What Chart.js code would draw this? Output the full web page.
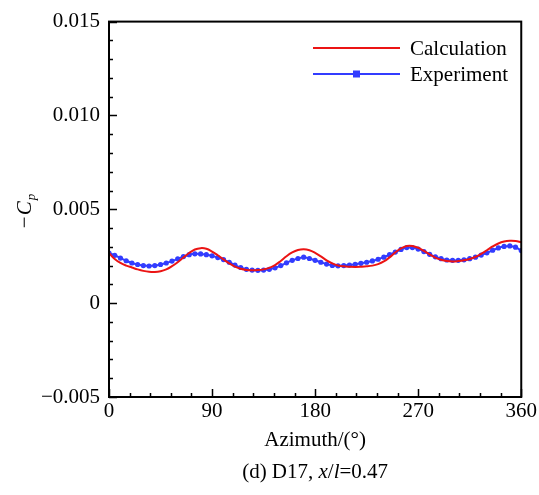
<!DOCTYPE html>
<html>
<head>
<meta charset="utf-8">
<script src="https://cdn.jsdelivr.net/npm/chart.js@4.4.0/dist/chart.umd.min.js"></script>
<style>
  html, body { margin: 0; padding: 0; background: #fff; }
  #wrap { width: 539px; height: 495px; }
</style>
</head>
<body>
<div id="wrap"><canvas id="cp_chart" width="539" height="495"></canvas></div>
<script>
var azimuth = [0, 5, 10, 15, 20, 25, 30, 35, 40, 45, 50, 55, 60, 65, 70, 75, 80, 85, 90,
  95, 100, 105, 110, 115, 120, 125, 130, 135, 140, 145, 150, 155, 160, 165, 170, 175, 180,
  185, 190, 195, 200, 205, 210, 215, 220, 225, 230, 235, 240, 245, 250, 255, 260, 265, 270,
  275, 280, 285, 290, 295, 300, 305, 310, 315, 320, 325, 330, 335, 340, 345, 350, 355, 360];

var calculation = [0.00267, 0.00235, 0.00214, 0.00200, 0.00190, 0.00180, 0.00172, 0.00167, 0.00166,
  0.00170, 0.00180, 0.00197, 0.00218, 0.00243, 0.00267, 0.00286, 0.00293, 0.00290, 0.00275,
  0.00255, 0.00233, 0.00212, 0.00195, 0.00183, 0.00177, 0.00175, 0.00176, 0.00180, 0.00188,
  0.00203, 0.00225, 0.00250, 0.00270, 0.00283, 0.00287, 0.00282, 0.00268,
  0.00249, 0.00228, 0.00212, 0.00201, 0.00196, 0.00194, 0.00193, 0.00194, 0.00196, 0.00200,
  0.00208, 0.00222, 0.00244, 0.00270, 0.00292, 0.00305, 0.00305, 0.00295,
  0.00278, 0.00260, 0.00243, 0.00231, 0.00224, 0.00222, 0.00224, 0.00228, 0.00235, 0.00246,
  0.00262, 0.00282, 0.00302, 0.00318, 0.00328, 0.00332, 0.00331, 0.00325];

var experiment = [0.00267, 0.00255, 0.00240, 0.00226, 0.00214, 0.00206, 0.00200, 0.00198, 0.00200,
  0.00206, 0.00214, 0.00224, 0.00236, 0.00248, 0.00258, 0.00263, 0.00262, 0.00258, 0.00252,
  0.00243, 0.00232, 0.00218, 0.00203, 0.00190, 0.00180, 0.00176, 0.00175, 0.00176, 0.00180,
  0.00188, 0.00200, 0.00215, 0.00228, 0.00238, 0.00245, 0.00238, 0.00228,
  0.00218, 0.00208, 0.00201, 0.00199, 0.00200, 0.00203, 0.00207, 0.00212, 0.00218, 0.00225,
  0.00234, 0.00245, 0.00258, 0.00272, 0.00286, 0.00296, 0.00296, 0.00288,
  0.00275, 0.00260, 0.00247, 0.00237, 0.00230, 0.00228, 0.00228, 0.00231, 0.00237, 0.00245,
  0.00256, 0.00268, 0.00282, 0.00294, 0.00302, 0.00305, 0.00298, 0.00280];

var xMajor = [0, 90, 180, 270, 360];
var xMinorStep = 18;
var yMajor = [-0.005, 0, 0.005, 0.010, 0.015];
var yTickLabels = ["\u22120.005", "0", "0.005", "0.010", "0.015"];
var yMinorStep = 0.001;
var xTitle = "Azimuth/(\u00b0)";

var FONT = "'Liberation Serif', 'Times New Roman', serif";
var RED = "rgb(235, 20, 20)";
var BLUE = "rgb(50, 60, 255)";

function pts(ys) {
  return azimuth.map(function (a, i) { return { x: a, y: ys[i] }; });
}

// frame, inward ticks, axis titles, legend, caption
var decor = {
  id: "decor",
  afterDraw: function (chart) {
    var c = chart.ctx, a = chart.chartArea;
    var xs = chart.scales.x, ys = chart.scales.y;
    c.save();
    c.strokeStyle = "#000";
    c.lineWidth = 2;
    c.strokeRect(a.left, a.top, a.right - a.left, a.bottom - a.top);

    c.lineWidth = 1.5;
    c.beginPath();
    for (var v = 0; v <= 360; v += xMinorStep) {
      var px = Math.round(xs.getPixelForValue(v)) + 0.5;
      var len = (v % 90 === 0) ? 8 : 4;
      c.moveTo(px, a.bottom); c.lineTo(px, a.bottom - len);
    }
    for (var k = -5; k <= 15; k++) {
      var py = Math.round(ys.getPixelForValue(k * yMinorStep)) + 0.5;
      var l2 = (k % 5 === 0) ? 8 : 4;
      c.moveTo(a.left, py); c.lineTo(a.left + l2, py);
    }
    c.stroke();

    c.fillStyle = "#000";
    c.textBaseline = "middle";

    // x title
    c.font = "21px " + FONT;
    c.textAlign = "center";
    c.fillText(xTitle, (a.left + a.right) / 2, 440);

    // y title: −C_p rotated
    c.translate(25, (a.top + a.bottom) / 2);
    c.rotate(-Math.PI / 2);
    c.font = "italic 21px " + FONT;
    c.textAlign = "left";
    var t1 = "\u2212C";
    var w1 = c.measureText(t1).width;
    c.fillText(t1, -w1 / 2 - 6, 0);
    c.font = "italic 13px " + FONT;
    c.fillText("p", w1 / 2 - 5, 7);
    c.setTransform(1, 0, 0, 1, 0, 0);

    // legend
    var lx0 = 313, lx1 = 400, tx = 410;
    var rows = [48, 74];
    c.font = "21px " + FONT;
    c.textAlign = "left";
    chart.data.datasets.forEach(function (ds, i) {
      var y = rows[i];
      c.strokeStyle = ds.borderColor;
      c.lineWidth = 2;
      c.beginPath(); c.moveTo(lx0, y); c.lineTo(lx1, y); c.stroke();
      if (ds.pointRadius > 0) {
        c.fillStyle = ds.pointBackgroundColor;
        c.fillRect((lx0 + lx1) / 2 - 3.5, y - 3.5, 7, 7);
      }
      c.fillStyle = "#000";
      c.fillText(ds.label, tx, y + 1);
    });

    // caption
    var parts = [["(d) D17, ", ""], ["x", "italic "], ["/", ""], ["l", "italic "], ["=0.47", ""]];
    var total = 0;
    parts.forEach(function (p) { c.font = p[1] + "21px " + FONT; total += c.measureText(p[0]).width; });
    var cx = (a.left + a.right) / 2 - total / 2;
    parts.forEach(function (p) {
      c.font = p[1] + "21px " + FONT;
      c.fillText(p[0], cx, 472);
      cx += c.measureText(p[0]).width;
    });
    c.restore();
  }
};

var ctx = document.getElementById("cp_chart").getContext("2d");
var cp_chart = new Chart(ctx, {
  type: "line",
  data: {
    datasets: [
      {
        label: "Calculation",
        data: pts(calculation),
        borderColor: RED,
        backgroundColor: RED,
        borderWidth: 2,
        pointRadius: 0,
        tension: 0.4,
      },
      {
        label: "Experiment",
        data: pts(experiment),
        borderColor: BLUE,
        backgroundColor: BLUE,
        pointBackgroundColor: BLUE,
        pointBorderWidth: 0,
        borderWidth: 2,
        pointRadius: 2.6,
        tension: 0.3,
      },
    ],
  },
  options: {
    responsive: false,
    animation: false,
    layout: { padding: { left: 0, right: 17, top: 20, bottom: 0 } },
    scales: {
      x: {
        type: "linear",
        min: 0,
        max: 360,
        afterFit: function (s) { s.height = 98; },
        afterBuildTicks: function (s) {
          s.ticks = xMajor.map(function (v) { return { value: v }; });
        },
        grid: { display: false, drawTicks: false },
        border: { display: false },
        ticks: {
          color: "#000",
          padding: 2,
          maxRotation: 0,
          font: { family: FONT, size: 21 },
          callback: function (v) { return String(v); },
        },
      },
      y: {
        min: -0.005,
        max: 0.015,
        afterFit: function (s) { s.width = 109; },
        afterBuildTicks: function (s) {
          s.ticks = yMajor.map(function (v) { return { value: v }; });
        },
        grid: { display: false, drawTicks: false },
        border: { display: false },
        ticks: {
          color: "#000",
          padding: 9,
          font: { family: FONT, size: 21 },
          callback: function (v) {
            var i = yMajor.findIndex(function (m) { return Math.abs(m - v) < 1e-9; });
            return i >= 0 ? yTickLabels[i] : "";
          },
        },
      },
    },
    plugins: {
      legend: { display: false },
      tooltip: { enabled: false },
    },
  },
  plugins: [decor],
});
</script>
</body>
</html>
